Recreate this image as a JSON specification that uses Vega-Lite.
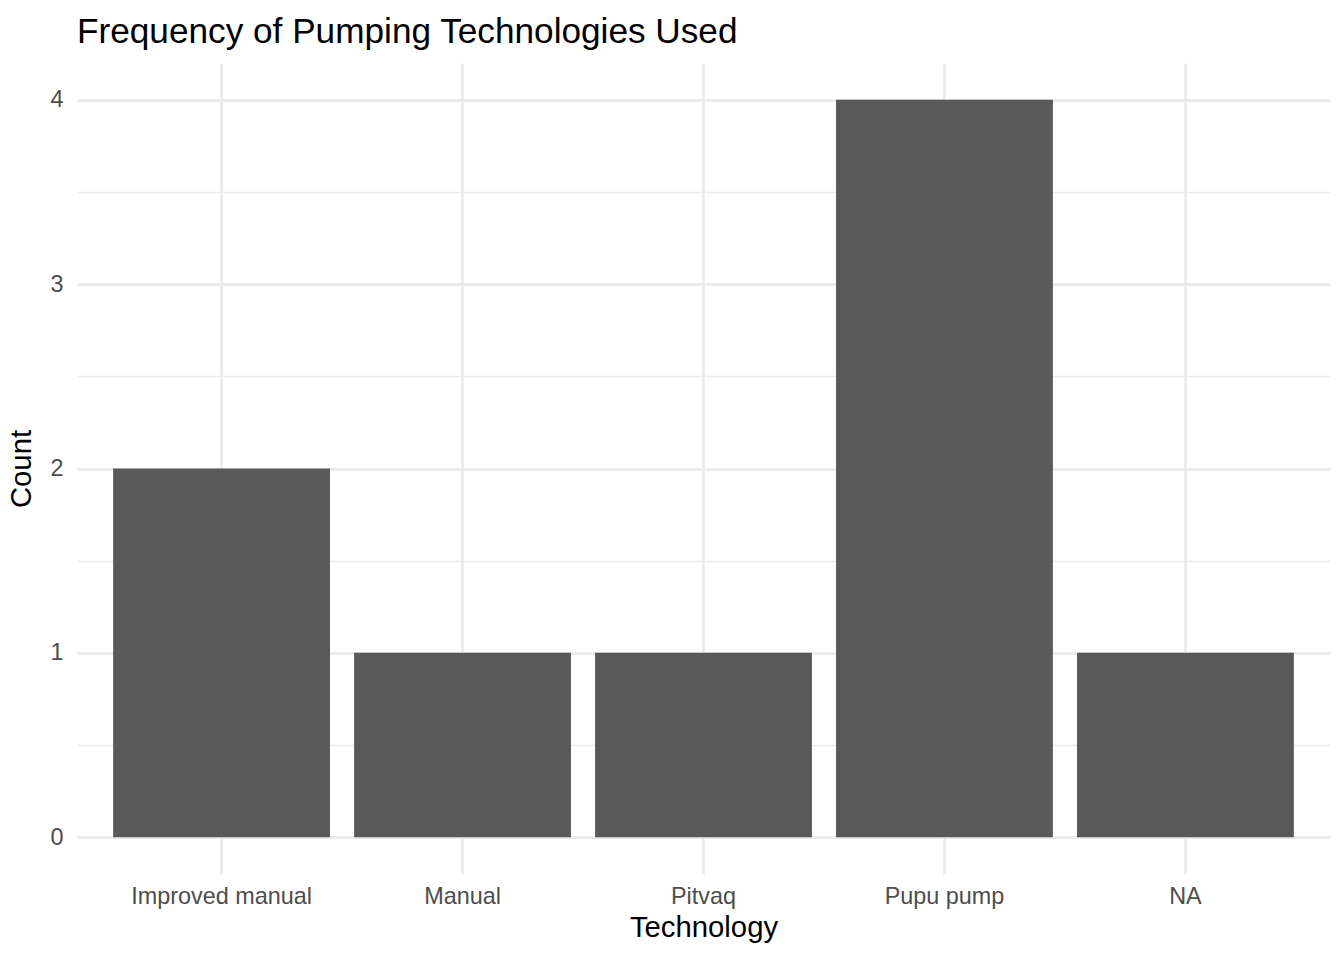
{
  "$schema": "https://vega.github.io/schema/vega-lite/v6.json",
  "width": 1253,
  "height": 811,
  "autosize": "none",
  "padding": {"left": 77, "top": 63, "right": 14, "bottom": 86},
  "background": "white",
  "title": {
    "text": "Frequency of Pumping Technologies Used",
    "anchor": "start",
    "frame": "group",
    "baseline": "alphabetic",
    "offset": -15,
    "font": "Liberation Sans",
    "fontSize": 35.2,
    "fontWeight": "normal",
    "color": "#000000"
  },
  "data": {
    "values": [
      {"Technology": "Improved manual", "Count": 2},
      {"Technology": "Manual", "Count": 1},
      {"Technology": "Pitvaq", "Count": 1},
      {"Technology": "Pupu pump", "Count": 4},
      {"Technology": "NA", "Count": 1}
    ]
  },
  "config": {
    "view": {"stroke": null},
    "font": "Liberation Sans"
  },
  "mark": {"type": "bar", "color": "#595959"},
  "encoding": {
    "x": {
      "field": "Technology",
      "type": "nominal",
      "sort": null,
      "scale": {"paddingInner": 0.1, "paddingOuter": 0.15},
      "axis": {
        "title": "Technology",
        "labelAngle": 0,
        "labelLimit": 0,
        "labelFont": "Liberation Sans",
        "labelFontSize": 23.4,
        "labelColor": "#4D4D4D",
        "labelPadding": 11,
        "titleFont": "Liberation Sans",
        "titleFontSize": 29.3,
        "titleFontWeight": "normal",
        "titleColor": "#000000",
        "titlePadding": 6,
        "domain": false,
        "ticks": false,
        "grid": true,
        "bandPosition": 0.5,
        "gridColor": "#EBEBEB",
        "gridWidth": 2.8
      }
    },
    "y": {
      "field": "Count",
      "type": "quantitative",
      "scale": {"domain": [-0.2, 4.2], "nice": false, "zero": false},
      "axis": {
        "title": "Count",
        "values": [0, 0.5, 1, 1.5, 2, 2.5, 3, 3.5, 4],
        "labelExpr": "datum.value % 1 === 0 ? format(datum.value, 'd') : ''",
        "labelFont": "Liberation Sans",
        "labelFontSize": 23.4,
        "labelColor": "#4D4D4D",
        "labelPadding": 14,
        "titleFont": "Liberation Sans",
        "titleFontSize": 29.3,
        "titleFontWeight": "normal",
        "titleColor": "#000000",
        "titlePadding": 13,
        "domain": false,
        "ticks": false,
        "grid": true,
        "gridColor": "#EBEBEB",
        "gridWidth": {"condition": {"test": "datum.value % 1 !== 0", "value": 1.4}, "value": 2.8}
      }
    },
    "y2": {"datum": 0}
  }
}
